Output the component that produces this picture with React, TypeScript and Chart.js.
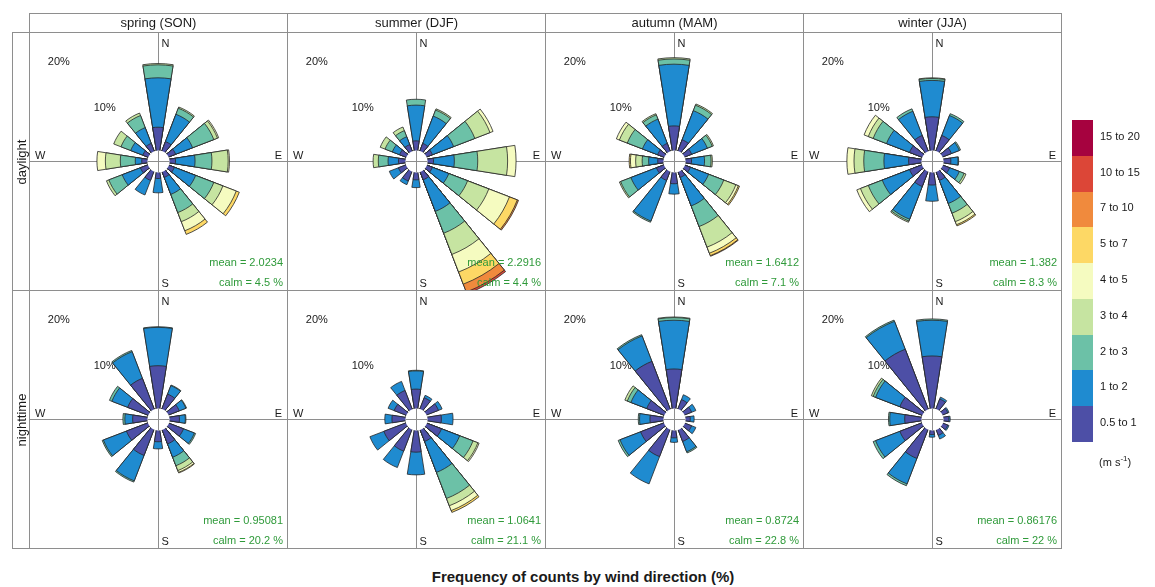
import React, { useEffect, useRef } from "react";
import { Chart, registerables } from "chart.js";

Chart.register(...registerables);

// ---------- data ----------
const directions = [0, 30, 60, 90, 120, 150, 180, 210, 240, 270, 300, 330];
const speedBins = ["0.5 to 1", "1 to 2", "2 to 3", "3 to 4", "4 to 5", "5 to 7", "7 to 10", "10 to 15", "15 to 20"];
const binColors = ["#4d4fa6", "#1f8bd0", "#6cc1a7", "#c6e4a1", "#f5fbc0", "#fdd865", "#f08a3d", "#dc4637", "#a6023f"];
const seasons = ["spring (SON)", "summer (DJF)", "autumn (MAM)", "winter (JJA)"];
const periods = ["daylight", "nighttime"];
const percentTicks = [10, 20];
const compassLabels = ["N", "E", "S", "W"];
const meanSpeeds = [
  [2.0234, 2.2916, 1.6412, 1.382],
  [0.95081, 1.0641, 0.8724, 0.86176],
];
const calmPercents = [
  [4.5, 4.4, 7.1, 8.3],
  [20.2, 21.1, 22.8, 22],
];

// % frequency: one row per direction (N, 30, ... 330), one value per speed bin
const springDay = [
  [3.5, 7.6, 2.0, 0.2],
  [1.5, 4.5, 1.0, 0.2],
  [1.2, 2.8, 3.5, 0.6, 0.2],
  [1.0, 3.0, 2.6, 2.5, 0.2],
  [1.0, 3.5, 3.0, 1.5, 2.2, 0.5],
  [1.0, 2.8, 3.0, 1.5, 1.5, 0.6],
  [1.0, 2.2],
  [1.5, 2.4],
  [1.2, 3.0, 2.2, 0.4],
  [0.8, 1.0, 2.3, 2.3, 1.3],
  [0.8, 2.0, 1.6, 1.2],
  [1.2, 2.6, 2.0, 0.4],
];
const summerDay = [
  [1.4, 5.5, 0.9],
  [1.2, 4.5, 1.0, 0.2],
  [1.0, 3.5, 3.5, 2.5, 0.5],
  [1.0, 3.2, 3.6, 4.6, 1.3],
  [1.0, 2.7, 3.1, 3.5, 3.4, 1.3, 0.2],
  [1.4, 5.2, 3.6, 3.5, 2.9, 2.0, 1.3, 0.3],
  [1.2, 1.2],
  [1.6, 0.6],
  [1.2, 1.5],
  [1.0, 1.6, 1.5, 0.8],
  [1.0, 1.2, 1.2, 0.8],
  [1.0, 1.3, 1.0, 0.6],
];
const autumnDay = [
  [3.7, 9.5, 0.8, 0.2],
  [1.8, 4.8, 0.9, 0.2],
  [1.2, 2.6, 0.8, 0.2],
  [1.0, 2.0, 1.0, 0.2],
  [1.0, 3.0, 2.5, 2.0, 0.4, 0.2],
  [1.0, 4.7, 3.4, 3.4, 1.0, 0.4, 0.1],
  [1.8, 1.6],
  [1.5, 6.7, 0.2],
  [1.2, 4.2, 1.7, 0.2],
  [0.8, 1.4, 1.0, 1.0, 0.8, 0.2],
  [1.0, 2.5, 2.5, 1.3, 0.5],
  [1.2, 4.0, 0.7, 0.2],
];
const winterDay = [
  [5.1, 5.6, 0.3, 0.1],
  [2.5, 3.3, 0.3],
  [1.5, 1.3, 0.2],
  [1.2, 1.1, 0.1],
  [1.2, 1.6, 0.8, 0.3],
  [1.5, 3.8, 1.6, 1.4, 0.5, 0.2],
  [2.0, 2.5],
  [2.5, 5.4, 0.3, 0.2],
  [2.0, 4.5, 2.3, 1.3, 0.6],
  [1.9, 3.8, 3.1, 1.5, 1.1],
  [2.0, 3.8, 2.2, 0.8, 0.7],
  [2.5, 4.0, 0.4],
];
const springNight = [
  [6.5, 5.9, 0.1],
  [2.4, 1.4, 0.1],
  [1.8, 1.1, 0.1],
  [1.6, 0.9, 0.1],
  [2.5, 1.8, 0.2],
  [2.4, 2.2, 1.4, 0.8, 0.3, 0.1],
  [1.8, 1.1],
  [4.3, 4.2, 0.2],
  [3.5, 3.8, 0.2],
  [2.2, 1.2, 0.3],
  [3.3, 2.6, 0.4],
  [5.0, 4.4, 0.2],
];
const summerNight = [
  [2.9, 2.8, 0.1],
  [1.8, 0.4],
  [2.0, 0.6],
  [2.2, 1.8],
  [2.5, 3.0, 2.2, 0.8, 0.2],
  [2.0, 5.1, 4.3, 1.2, 0.8, 0.3],
  [3.4, 3.5],
  [3.6, 2.7],
  [3.6, 2.3],
  [2.0, 1.1],
  [1.9, 1.0],
  [3.0, 1.5],
];
const autumnNight = [
  [6.0, 7.5, 0.4, 0.1],
  [1.5, 0.8],
  [1.2, 0.7],
  [0.8, 0.6],
  [1.2, 0.7],
  [2.0, 1.7, 0.2],
  [1.2, 0.7],
  [4.5, 4.5],
  [3.8, 3.4, 0.3],
  [2.0, 1.6, 0.2],
  [2.8, 2.6, 0.6, 0.4],
  [7.8, 4.2, 0.2],
];
const winterNight = [
  [8.0, 5.5, 0.2],
  [1.6, 0.3],
  [0.9, 0.2],
  [0.9, 0.2],
  [0.9, 0.2],
  [1.0, 0.6],
  [0.7, 0.4],
  [4.8, 4.2, 0.3],
  [3.6, 4.0, 0.4],
  [2.5, 2.3, 0.2],
  [3.6, 4.0, 0.4, 0.3],
  [9.8, 4.6, 0.2],
];

const roseData = [
  [springDay, summerDay, autumnDay, winterDay],
  [springNight, summerNight, autumnNight, winterNight],
];

// ---------- layout / style ----------
const PANEL = 258;
const X0 = 29;
const Y0 = 32;
const STRIP_TOP = 13;
const STRIP_LEFT = 12;
const WEDGE_DEG = 18;
const GAP_DEG = 12;
const R_MIN = -1.7;
const R_MAX = 18.15;
const FONT = '"Liberation Sans", Arial, Helvetica, sans-serif';
const LINE = "#8e8e8e";
const GREEN = "#2f9a3a";

function buildDatasets(rows: number[][]) {
  return speedBins.map((bin, k) => {
    const data: number[] = [];
    directions.forEach((_, i) => {
      const row = rows[i];
      let v = 0;
      if (k < row.length) {
        for (let j = 0; j <= k; j++) v += row[j];
      }
      data.push(v, 0);
    });
    return {
      label: bin,
      data,
      backgroundColor: (c: any) => (c.dataIndex % 2 ? "rgba(0,0,0,0)" : binColors[k]),
      borderColor: "#262626",
      borderWidth: (c: any) => (c.dataIndex % 2 ? 0 : 0.8),
      angle: (c: any) => (c.dataIndex % 2 ? GAP_DEG : WEDGE_DEG),
    };
  });
}

function RosePanel({ row, col }: { row: number; col: number }) {
  const ref = useRef<HTMLCanvasElement>(null);
  useEffect(() => {
    const rows = roseData[row][col];
    const mean = meanSpeeds[row][col];
    const calm = calmPercents[row][col];
    const labels: string[] = [];
    directions.forEach((d) => labels.push(String(d), ""));

    const decor = {
      id: "roseDecor",
      beforeDatasetsDraw(chart: any) {
        const { ctx, chartArea } = chart;
        const s = chart.scales.r;
        const cx = Math.round(s.xCenter) + 0.5;
        const cy = Math.round(s.yCenter) + 0.5;
        ctx.save();
        ctx.strokeStyle = LINE;
        ctx.lineWidth = 1;
        ctx.beginPath();
        ctx.moveTo(cx, chartArea.top);
        ctx.lineTo(cx, chartArea.bottom);
        ctx.moveTo(chartArea.left, cy);
        ctx.lineTo(chartArea.right, cy);
        ctx.stroke();
        ctx.fillStyle = "#1a1a1a";
        ctx.font = `11px ${FONT}`;
        ctx.textBaseline = "middle";
        ctx.textAlign = "left";
        ctx.fillText(compassLabels[0], cx + 3, chartArea.top + 12);
        ctx.fillText(compassLabels[2], cx + 3, chartArea.top + 252);
        ctx.fillText(compassLabels[3], chartArea.left + 6, cy - 6);
        ctx.textAlign = "right";
        ctx.fillText(compassLabels[1], chartArea.right - 5, cy - 6);
        ctx.textAlign = "center";
        percentTicks.forEach((t) => {
          const d = s.getDistanceFromCenterForValue(t) * Math.SQRT1_2;
          ctx.fillText(`${t}%`, cx - d, cy - d);
        });
        ctx.restore();
      },
      afterDatasetsDraw(chart: any) {
        const { ctx, chartArea } = chart;
        const s = chart.scales.r;
        const cx = Math.round(s.xCenter) + 0.5;
        const cy = Math.round(s.yCenter) + 0.5;
        const hr = s.getDistanceFromCenterForValue(0);
        ctx.save();
        ctx.fillStyle = "#ffffff";
        ctx.beginPath();
        ctx.arc(cx, cy, hr, 0, Math.PI * 2);
        ctx.fill();
        ctx.strokeStyle = LINE;
        ctx.lineWidth = 1;
        ctx.beginPath();
        ctx.moveTo(cx, cy - hr);
        ctx.lineTo(cx, cy + hr);
        ctx.moveTo(cx - hr, cy);
        ctx.lineTo(cx + hr, cy);
        ctx.stroke();
        ctx.fillStyle = GREEN;
        ctx.font = `11px ${FONT}`;
        ctx.textAlign = "right";
        ctx.textBaseline = "middle";
        ctx.fillText(`mean = ${mean}`, chartArea.right - 4, chartArea.top + 231);
        ctx.fillText(`calm = ${calm} %`, chartArea.right - 4, chartArea.top + 251);
        ctx.restore();
      },
    };

    const chart = new Chart(ref.current as HTMLCanvasElement, {
      type: "polarArea",
      data: { labels, datasets: buildDatasets(rows) as any },
      options: {
        responsive: false,
        animation: false,
        devicePixelRatio: 1,
        startAngle: -WEDGE_DEG / 2,
        layout: { padding: 0 },
        plugins: { legend: { display: false }, tooltip: { enabled: false } },
        scales: {
          r: {
            display: false,
            min: R_MIN,
            max: R_MAX,
            startAngle: -WEDGE_DEG / 2,
            beginAtZero: false,
          },
        },
      } as any,
      plugins: [decor],
    });
    return () => chart.destroy();
  }, [row, col]);

  return (
    <canvas
      ref={ref}
      width={PANEL}
      height={PANEL}
      style={{ position: "absolute", left: X0 + col * PANEL, top: Y0 + row * PANEL, width: PANEL, height: PANEL }}
    />
  );
}

export default function App() {
  const boxH = (442 - 120) / speedBins.length;
  return (
    <div
      style={{
        position: "fixed",
        left: 0,
        top: 0,
        width: 1155,
        height: 587,
        overflow: "hidden",
        background: "#ffffff",
        fontFamily: FONT,
        color: "#1a1a1a",
      }}
    >
      {roseData.map((r, ri) => r.map((_, ci) => <RosePanel key={`${ri}-${ci}`} row={ri} col={ci} />))}

      {/* panel borders */}
      {roseData.map((r, ri) =>
        r.map((_, ci) => (
          <div
            key={`b-${ri}-${ci}`}
            style={{
              position: "absolute",
              left: X0 + ci * PANEL,
              top: Y0 + ri * PANEL,
              width: PANEL + 1,
              height: PANEL + 1,
              boxSizing: "border-box",
              border: `1px solid ${LINE}`,
              pointerEvents: "none",
            }}
          />
        ))
      )}

      {/* top strips */}
      {seasons.map((s, ci) => (
        <div
          key={s}
          style={{
            position: "absolute",
            left: X0 + ci * PANEL,
            top: STRIP_TOP,
            width: PANEL + 1,
            height: Y0 - STRIP_TOP + 1,
            boxSizing: "border-box",
            border: `1px solid ${LINE}`,
            fontSize: 13,
            lineHeight: `${Y0 - STRIP_TOP - 1}px`,
            textAlign: "center",
          }}
        >
          {s}
        </div>
      ))}

      {/* left strips */}
      {periods.map((p, ri) => (
        <div
          key={p}
          style={{
            position: "absolute",
            left: STRIP_LEFT,
            top: Y0 + ri * PANEL,
            width: X0 - STRIP_LEFT + 1,
            height: PANEL + 1,
            boxSizing: "border-box",
            border: `1px solid ${LINE}`,
          }}
        >
          <div
            style={{
              position: "absolute",
              left: "50%",
              top: "50%",
              transform: "translate(-50%, -50%) rotate(-90deg)",
              fontSize: 13,
              whiteSpace: "nowrap",
            }}
          >
            {p}
          </div>
        </div>
      ))}

      {/* legend */}
      {speedBins
        .slice()
        .reverse()
        .map((b, i) => {
          const k = speedBins.length - 1 - i;
          return (
            <React.Fragment key={b}>
              <div
                style={{
                  position: "absolute",
                  left: 1072,
                  top: 120 + i * boxH,
                  width: 21,
                  height: boxH + 0.5,
                  background: binColors[k],
                }}
              />
              <div
                style={{
                  position: "absolute",
                  left: 1100,
                  top: 120 + i * boxH + boxH / 2 - 9,
                  fontSize: 11,
                  lineHeight: "14px",
                  whiteSpace: "nowrap",
                }}
              >
                {b}
              </div>
            </React.Fragment>
          );
        })}
      <div style={{ position: "absolute", left: 1099, top: 454, fontSize: 11, whiteSpace: "nowrap" }}>
        (m s<sup style={{ fontSize: 8 }}>-1</sup>)
      </div>

      {/* x title */}
      <div
        style={{
          position: "absolute",
          left: 383,
          width: 400,
          top: 568,
          textAlign: "center",
          fontSize: 15,
          fontWeight: "bold",
          whiteSpace: "nowrap",
        }}
      >
        Frequency of counts by wind direction (%)
      </div>
    </div>
  );
}
